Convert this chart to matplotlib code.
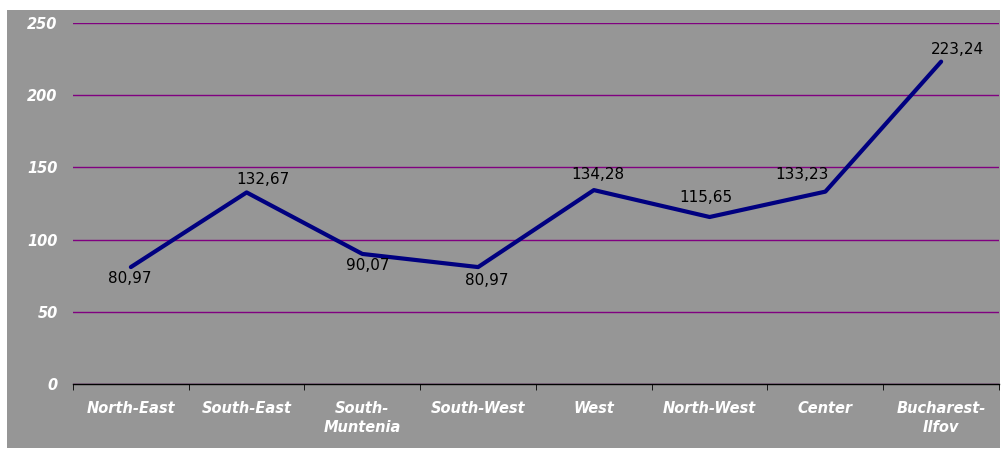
import matplotlib
matplotlib.use("Agg")
import matplotlib.pyplot as plt
from matplotlib.patches import Rectangle
import numpy as np

regions = ["North-East", "South-East", "South-\nMuntenia", "South-West",
           "West", "North-West", "Center", "Bucharest-\nIlfov"]
values = [80.97, 132.67, 90.07, 80.97, 134.28, 115.65, 133.23, 223.24]
labels = ["80,97", "132,67", "90,07", "80,97", "134,28", "115,65", "133,23", "223,24"]
# offset of each value label from its point, in points
label_off = [(-1, -8), (12, 9), (4, -8), (6, -10), (3, 11), (-3, 14), (-17, 12), (12, 9)]

plt.rcParams['font.family'] = ['DejaVu Sans']
gray = "#969696"

fig = plt.figure(figsize=(10.03, 4.51), dpi=100)
fig.patch.set_facecolor("white")
# grey chart area behind the axes
fig.patches.append(Rectangle((7 / 1003, 3 / 451), 993 / 1003, 438 / 451,
                             transform=fig.transFigure, facecolor=gray,
                             edgecolor="none", zorder=-10))

ax = fig.add_axes([73 / 1003, 1 - 384 / 451, 926 / 1003, 361 / 451])
ax.set_facecolor(gray)
x = np.arange(len(values)) + 0.5
ax.plot(x, values, color="#000080", lw=3, solid_capstyle="round", zorder=3)

for xi, v, t, off in zip(x, values, labels, label_off):
    ax.annotate(t, (xi, v), xytext=off, textcoords="offset points",
                ha="center", va="center", fontsize=11, color="black")

ax.set_xlim(0, len(values))
ax.set_ylim(0, 250)
ax.set_yticks(np.arange(0, 251, 50))
ax.yaxis.grid(True, color="#800080", lw=1)
ax.set_axisbelow(True)

ax.set_xticks(x)
ax.set_xticklabels(regions, fontsize=10.5, fontweight="bold", style="italic",
                   color="white", linespacing=1.35)
ax.set_xticks(np.arange(len(values) + 1), minor=True)
ax.tick_params(axis="x", which="major", length=0, pad=12)
ax.tick_params(axis="x", which="minor", length=4, color="black", direction="out")
ax.tick_params(axis="y", length=0, pad=11)
for lbl in ax.get_yticklabels():
    lbl.set_fontsize(10.5)
    lbl.set_fontweight("bold")
    lbl.set_style("italic")
    lbl.set_color("white")

for side in ["top", "right", "left"]:
    ax.spines[side].set_visible(False)
ax.spines["bottom"].set_color("black")
ax.spines["bottom"].set_linewidth(1)

fig.savefig("out.png", dpi=100)
